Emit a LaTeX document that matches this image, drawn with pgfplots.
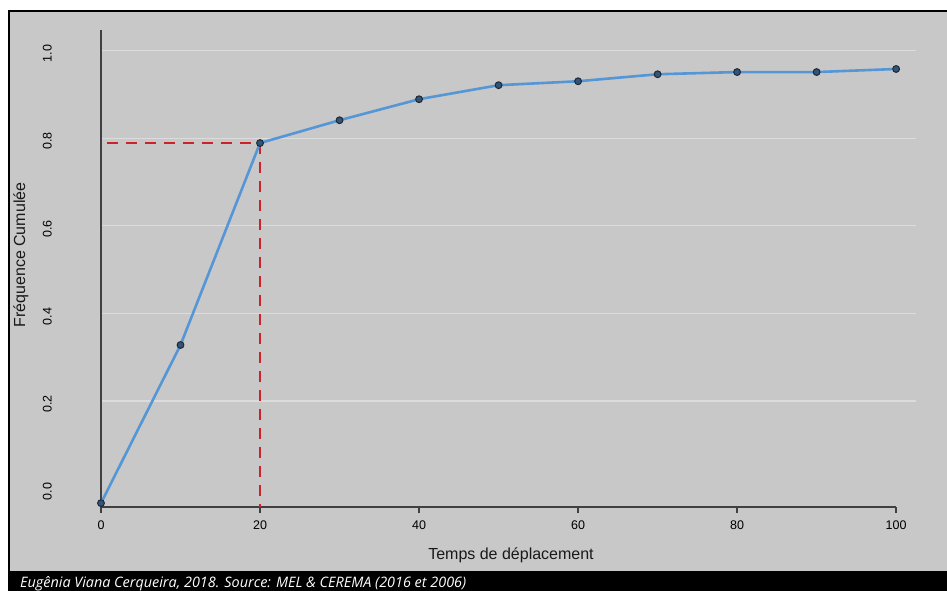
\documentclass[border=0pt]{standalone}
\usepackage{pgfplots}
\pgfplotsset{compat=1.18}
\usepackage{fontspec}
\setmainfont{Liberation Sans}
\newfontfamily\footfont{Open Sans}
\definecolor{panel}{HTML}{C8C8C8}
\definecolor{gridc}{HTML}{DCDCDC}
\definecolor{axisc}{HTML}{404040}
\definecolor{lineblue}{HTML}{5596D6}
\definecolor{dashred}{HTML}{CC2229}
\definecolor{markc}{HTML}{1C2836}
\begin{document}
\begin{tikzpicture}
\useasboundingbox (0,0) rectangle (947pt,-591pt);
\fill[white] (0,0) rectangle (947pt,-591pt);
\fill[panel] (8pt,-10pt) rectangle (947pt,-591pt);
\draw[black, line width=2pt] (9pt,-592pt) -- (9pt,-11pt) -- (948pt,-11pt);
\fill[black] (8pt,-571pt) rectangle (947pt,-591pt);
\node[anchor=base west, text=white, inner sep=0pt] at (20pt,-587.5pt)
  {\footfont\itshape\fontsize{14.4}{16}\selectfont Eugênia Viana Cerqueira, 2018. Source: MEL \& CEREMA (2016 et 2006)};
\begin{axis}[
  at={(101pt,-507pt)}, anchor=south west,
  scale only axis, width=815pt, height=477pt,
  xmin=0, xmax=102.5, ymin=-0.0418, ymax=1.047,
  clip=false,
  axis line style={draw=none},
  /pgf/number format/assume math mode=true,
  xtick={0,20,40,60,80,100},
  xtick pos=bottom, tick align=outside,
  major tick length=6pt,
  xtick style={draw=axisc, line width=1.4pt},
  xticklabel style={font=\fontsize{12.5}{14}\selectfont, yshift=-4pt},
  ytick={0.2,0.4,0.6,0.8,1.0},
  extra y ticks={0},
  extra y tick style={grid=none},
  ytick pos=left,
  ytick style={draw=none},
  yticklabel style={font=\fontsize{12.5}{14}\selectfont, rotate=90, anchor=south, inner sep=0pt, xshift=-3pt},
  yticklabel shift=43pt,
  yticklabel={\pgfmathprintnumber[fixed, fixed zerofill, precision=1]{\tick}},
  ymajorgrids, grid style={draw=gridc, line width=1.2pt},
]
% axis lines (R style)
\draw[axisc, line width=1.6pt] (axis cs:0,-0.0418) -- (axis cs:100,-0.0418);
\draw[axisc, line width=1.6pt] (axis cs:0,-0.0418) -- (axis cs:0,1.047);
% red dashed reference lines
\addplot[dashred, line width=2.6pt, dash pattern=on 11pt off 8pt] coordinates {(0.75,0.789) (20,0.789)};
\addplot[dashred, line width=2.6pt, dash pattern=on 11pt off 8pt] coordinates {(20,0.789) (20,-0.0418)};
% markers
\addplot[only marks, mark=*, mark size=3.4pt, mark options={draw=markc, fill=markc!60!lineblue, line width=1pt}] coordinates {
(0,-0.033) (10,0.328) (20,0.789) (30,0.841) (40,0.889) (50,0.921) (60,0.930) (70,0.946) (80,0.951) (90,0.951) (100,0.958)};
% line
\addplot[lineblue, line width=2.6pt, no marks] coordinates {
(0,-0.033) (10,0.328) (20,0.789) (30,0.841) (40,0.889) (50,0.921) (60,0.930) (70,0.946) (80,0.951) (90,0.951) (100,0.958)};
\end{axis}
\node[anchor=base, inner sep=0pt, font=\fontsize{16}{18}\selectfont, text=black!90] at (511pt,-559pt) {Temps de déplacement};
\node[anchor=base, rotate=90, inner sep=0pt, font=\fontsize{16}{18}\selectfont, text=black!90] at (25pt,-255pt) {Fréquence Cumulée};
\end{tikzpicture}
\end{document}
